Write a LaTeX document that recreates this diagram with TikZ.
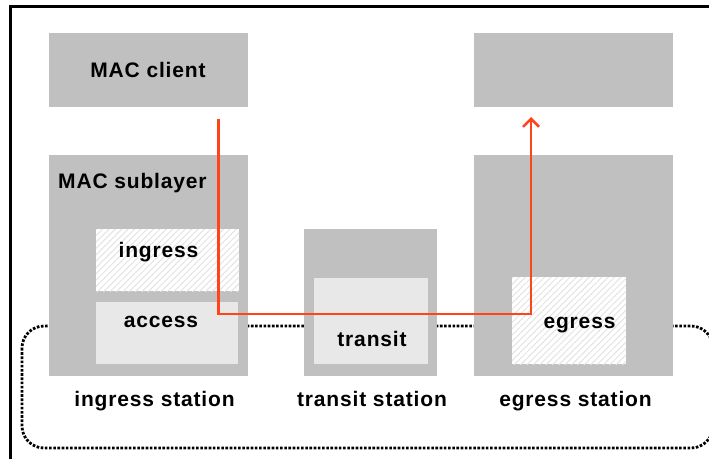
\documentclass[tikz,border=0pt]{standalone}
\usepackage{fontspec}
\setmainfont{Liberation Sans}[LetterSpace=4]
\usetikzlibrary{arrows.meta,patterns.meta}
\definecolor{boxgray}{HTML}{C0C0C0}
\definecolor{innergray}{HTML}{E8E8E8}
\definecolor{hatchgray}{HTML}{E4E4E4}
\definecolor{flowred}{HTML}{FF4419}
\begin{document}
\begin{tikzpicture}[x=1pt,y=-1pt,
  outerbox/.style={fill=boxgray,draw=none,inner sep=0pt,anchor=north west},
  innerbox/.style={fill=innergray,draw=none,inner sep=0pt,anchor=north west},
  hatchbox/.style={fill=white,draw=none,inner sep=0pt,anchor=north west,
     postaction={pattern={Lines[angle=45,distance=4.5pt,line width=1pt]},pattern color=hatchgray}},
  lbl/.style={font=\fontsize{21}{24}\selectfont\bfseries,inner sep=0pt,anchor=base},
  dotline/.style={line width=2.8pt,dash pattern=on 2.6pt off 1.6pt},
  flow/.style={draw=flowred,line width=2.5pt}
]
\useasboundingbox (0,0) rectangle (709,459);
% frame
\draw[line width=3.5pt] (10.5,459) -- (10.5,6.5) -- (709,6.5);
% dotted region
\draw[dotline,rounded corners=22pt] (22,326) rectangle (713,448);
% outer boxes
\node[outerbox,minimum width=199,minimum height=74] (client) at (49,33) {};
\node[outerbox,minimum width=199,minimum height=74] (client2) at (474,33) {};
\node[outerbox,minimum width=199,minimum height=221] (ingst) at (49,155) {};
\node[outerbox,minimum width=133,minimum height=147] (transt) at (304,229) {};
\node[outerbox,minimum width=199,minimum height=221] (egst) at (474,155) {};
% inner boxes
\node[hatchbox,minimum width=143,minimum height=62] (ingress) at (96,229) {};
\node[innerbox,minimum width=142,minimum height=62] (access) at (96,302) {};
\node[innerbox,minimum width=114,minimum height=86] (transit) at (314,278) {};
\node[hatchbox,minimum width=114,minimum height=87] (egress) at (512,277) {};
% flow
\coordinate (fstart) at (218.5,119);
\coordinate (fend) at (531,117);
\draw[flow,-{Straight Barb[length=8pt,width=16pt,line width=2.5pt]}]
  (fstart) -- (218.5,314) -- (531,314) -- (fend);
% labels
\node[lbl] (lclient) at (148,77) {MAC client};
\node[lbl,anchor=base west] (lsub) at (58,188) {MAC sublayer};
\node[lbl] (lingress) at (158.5,257) {ingress};
\node[lbl] (laccess) at (161,327) {access};
\node[lbl] (ltransit) at (372,346) {transit};
\node[lbl] (legress) at (579.5,328) {egress};
\node[lbl] (ling) at (154.5,406.5) {ingress station};
\node[lbl] (ltra) at (372,406.5) {transit station};
\node[lbl] (legr) at (575.5,406.5) {egress station};
\end{tikzpicture}
\end{document}
